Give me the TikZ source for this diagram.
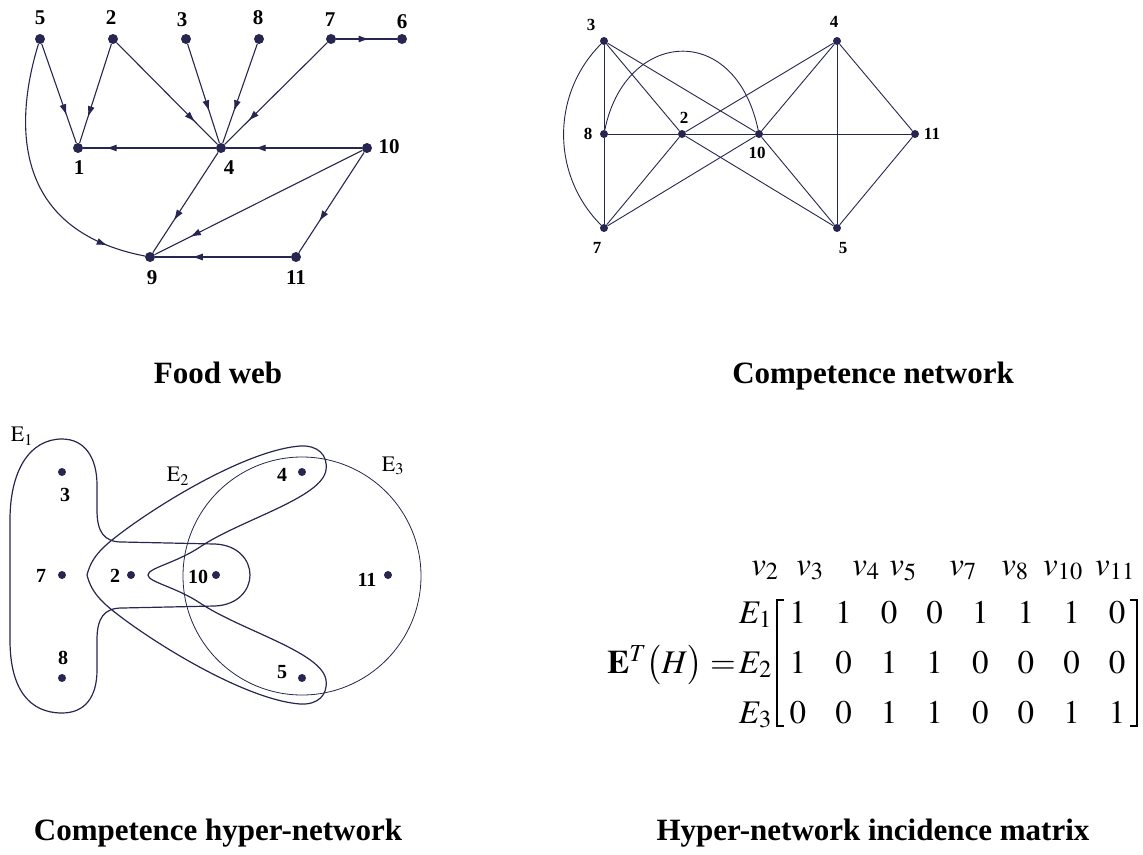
\documentclass[tikz,border=0pt]{standalone}
\usepackage{mathptmx}
\usepackage{fontspec}
\setmainfont{Liberation Serif}
\usepackage{amsmath}
\usetikzlibrary{
  arrows.meta,
  decorations.markings,
  matrix
}
\definecolor{inkblue}{RGB}{38,38,80}
\tikzset{
  web dot/.style={
    circle,
    fill=inkblue,
    inner sep=0pt,
    minimum size=10pt
  },
  web label/.style={
    font=\fontsize{21}{21}\selectfont\bfseries,
    inner sep=0pt
  },
  web edge/.style={
    draw=inkblue,
    line width=1.1pt,
    postaction={decorate},
    decoration={
      markings,
      mark=at position #1 with {
        \arrow{Latex[length=11pt,width=7pt]}
      }
    }
  },
  web edge/.default=0.75,
  net dot/.style={
    circle,
    fill=inkblue,
    inner sep=0pt,
    minimum size=8pt
  },
  net label/.style={
    font=\fontsize{17}{17}\selectfont\bfseries,
    inner sep=0pt
  },
  net edge/.style={
    draw=inkblue,
    line width=0.9pt
  },
  hyper dot/.style={
    circle,
    fill=inkblue,
    inner sep=0pt,
    minimum size=8pt
  },
  hyper label/.style={
    font=\fontsize{20}{20}\selectfont\bfseries,
    inner sep=0pt
  },
  hyper edge/.style={
    draw=inkblue,
    line width=1.2pt
  },
  caption/.style={
    font=\fontsize{31}{31}\selectfont\bfseries,
    anchor=base
  }
}

\begin{document}
\begin{tikzpicture}[x=1pt,y=-1pt]
  \useasboundingbox (0,0) rectangle (1143,854);

    % ---------- food web ----------
    \begin{scope}
      \node[web dot] (f5) at (40,39) {};
      \node[web dot] (f2) at (113,39) {};
      \node[web dot] (f3) at (186,39) {};
      \node[web dot] (f8) at (259,39) {};
      \node[web dot] (f7) at (331,39) {};
      \node[web dot] (f6) at (402,39) {};
      \node[web dot] (f1) at (78,148) {};
      \node[web dot] (f4) at (221,148) {};
      \node[web dot] (f10) at (367,148) {};
      \node[web dot] (f9) at (150,257) {};
      \node[web dot] (f11) at (296,257) {};

      \node[web label] (lf5) at (40,18) {5};
      \node[web label] (lf2) at (111,18) {2};
      \node[web label] (lf3) at (182,20) {3};
      \node[web label] (lf8) at (258,18) {8};
      \node[web label] (lf7) at (330,20) {7};
      \node[web label] (lf6) at (402,22) {6};
      \node[web label] (lf1) at (79,168) {1};
      \node[web label] (lf4) at (229,168) {4};
      \node[web label] (lf10) at (389,147) {10};
      \node[web label] (lf9) at (152,278) {9};
      \node[web label] (lf11) at (296,278) {11};

      % who eats whom
      \draw[web edge=0.72] (f5) -- (f1);
      \draw[web edge=0.74] (f2) -- (f1);
      \draw[web edge=0.78] (f2) -- (f4);
      \draw[web edge=0.68] (f3) -- (f4);
      \draw[web edge=0.68] (f8) -- (f4);
      \draw[web edge=0.77] (f7) -- (f4);
      \draw[web edge=0.55] (f7) -- (f6);
      \draw[web edge=0.83] (f4) -- (f1);
      \draw[web edge=0.79] (f10) -- (f4);
      \draw[web edge=0.68] (f4) -- (f9);
      \draw[web edge=0.83] (f10) -- (f9);
      \draw[web edge=0.69] (f10) -- (f11);
      \draw[web edge=0.73] (f11) -- (f9);
      \draw[web edge=0.86] (f5)
        .. controls (15,120) and (10,230) .. (f9);

      \node[caption] (capweb) at (218,383) {Food web};
    \end{scope}

    % ---------- competence network ----------
    \begin{scope}
      \node[net dot] (c3) at (604,41) {};
      \node[net dot] (c4) at (837,41) {};
      \node[net dot] (c8) at (604,134) {};
      \node[net dot] (c2) at (682,134) {};
      \node[net dot] (c10) at (759,134) {};
      \node[net dot] (c11) at (915,134) {};
      \node[net dot] (c7) at (604,228) {};
      \node[net dot] (c5) at (837,228) {};

      \node[net label] (lc3) at (591,25) {3};
      \node[net label] (lc4) at (834,22) {4};
      \node[net label] (lc8) at (588,134) {8};
      \node[net label] (lc2) at (684,118) {2};
      \node[net label] (lc10) at (757,153) {10};
      \node[net label] (lc11) at (932,134) {11};
      \node[net label] (lc7) at (597,248) {7};
      \node[net label] (lc5) at (843,248) {5};

      \draw[net edge] (c3) -- (c8) -- (c7);
      \draw[net edge] (c3) -- (c2);
      \draw[net edge] (c3) -- (c10);
      \draw[net edge] (c8) -- (c2) -- (c10) -- (c11);
      \draw[net edge] (c7) -- (c2);
      \draw[net edge] (c7) -- (c10);
      \draw[net edge] (c2) -- (c4);
      \draw[net edge] (c2) -- (c5);
      \draw[net edge] (c10) -- (c4);
      \draw[net edge] (c10) -- (c5);
      \draw[net edge] (c4) -- (c5);
      \draw[net edge] (c4) -- (c11) -- (c5);
      \draw[net edge] (c3) to[bend right=45] (c7);
      \draw[net edge] (c8)
        .. controls (625,30) and (735,20) .. (c10);

      \node[caption] (capnet) at (873,383) {Competence network};
    \end{scope}

    % ---------- competence hyper-network ----------
    \begin{scope}
      % E1
      \draw[hyper edge]
        (62,439) .. controls (85,439) and (97,458) .. (97,485)
        -- (97,510) .. controls (97,532) and (104,542) .. (122,542)
        -- (215,544) .. controls (238,545) and (250,560) .. (250,575)
        .. controls (250,590) and (238,605) .. (215,606)
        -- (122,608) .. controls (104,608) and (97,618) .. (97,640)
        -- (97,670) .. controls (97,697) and (85,713) .. (62,713)
        .. controls (30,713) and (10,690) .. (10,640)
        -- (10,520) .. controls (10,470) and (30,439) .. (62,439)
        -- cycle;

      % E2
      \draw[hyper edge]
        (87,575) .. controls (92,555) and (105,545) .. (125,530)
        .. controls (170,497) and (250,450) .. (300,446)
        .. controls (318,445) and (328,455) .. (326,470)
        .. controls (322,498) and (240,520) .. (200,547)
        .. controls (176,563) and (148,568) .. (148,575)
        .. controls (148,582) and (176,587) .. (200,603)
        .. controls (240,630) and (322,652) .. (326,680)
        .. controls (328,695) and (318,705) .. (300,704)
        .. controls (250,700) and (170,653) .. (125,620)
        .. controls (105,605) and (92,595) .. (87,575)
        -- cycle;

      % E3
      \draw[draw=inkblue,line width=0.8pt] (302,576) circle[radius=119];

      \node[hyper dot] (h3) at (62,472) {};
      \node[hyper dot] (h7) at (62,575) {};
      \node[hyper dot] (h8) at (62,678) {};
      \node[hyper dot] (h2) at (131,575) {};
      \node[hyper dot] (h10) at (216,575) {};
      \node[hyper dot] (h4) at (302,472) {};
      \node[hyper dot] (h5) at (302,678) {};
      \node[hyper dot] (h11) at (388,575) {};

      \node[hyper label] (lh3) at (65,495) {3};
      \node[hyper label] (lh7) at (41,576) {7};
      \node[hyper label] (lh8) at (63,658) {8};
      \node[hyper label] (lh2) at (115,576) {2};
      \node[hyper label] (lh10) at (198,577) {10};
      \node[hyper label] (lh4) at (282,475) {4};
      \node[hyper label] (lh5) at (282,672) {5};
      \node[hyper label] (lh11) at (367,580) {11};

      \node[font=\fontsize{22}{22}\selectfont,inner sep=0pt]
        (le1) at (22,436) {$\mathrm{E}_1$};
      \node[font=\fontsize{22}{22}\selectfont,inner sep=0pt]
        (le2) at (178,476) {$\mathrm{E}_2$};
      \node[font=\fontsize{22}{22}\selectfont,inner sep=0pt]
        (le3) at (393,466) {$\mathrm{E}_3$};

      \node[caption] (caphyp) at (218,840) {Competence hyper-network};
    \end{scope}

    % ---------- incidence matrix ----------
    \begin{scope}[font=\fontsize{33}{35}\selectfont]
      \matrix (inc) [
        matrix of math nodes,
        nodes={minimum width=45.6pt,inner sep=0pt,
          text height=22pt,text depth=0pt},
        row sep=28pt,
        column sep=0pt
      ] at (957.5,662) {
        1 & 1 & 0 & 0 & 1 & 1 & 1 & 0 \\
        1 & 0 & 1 & 1 & 0 & 0 & 0 & 0 \\
        0 & 0 & 1 & 1 & 0 & 0 & 1 & 1 \\
      };

      % brackets
      \draw[line width=1.4pt] (784,600) -- (777,600) -- (777,726) -- (784,726);
      \draw[line width=1.4pt] (1130,600) -- (1137,600) -- (1137,726) -- (1130,726);

      % row names
      \node[anchor=base east,inner sep=0pt] (r1) at (772,623) {$E_1$};
      \node[anchor=base east,inner sep=0pt] (r2) at (772,673) {$E_2$};
      \node[anchor=base east,inner sep=0pt] (r3) at (772,723) {$E_3$};
      \node[anchor=base east,inner sep=0pt] (lhs) at (736,673)
        {$\mathbf{E}^{T}\bigl(H\bigr)=$};

      % column names
      \node[anchor=base,inner sep=0pt] (v2) at (765,575) {$v_2$};
      \node[anchor=base,inner sep=0pt] (v3) at (810,575) {$v_3$};
      \node[anchor=base,inner sep=0pt] (v4) at (866,575) {$v_4$};
      \node[anchor=base,inner sep=0pt] (v5) at (903,575) {$v_5$};
      \node[anchor=base,inner sep=0pt] (v7) at (963,575) {$v_7$};
      \node[anchor=base,inner sep=0pt] (v8) at (1015,575) {$v_8$};
      \node[anchor=base,inner sep=0pt] (v10) at (1063,575) {$v_{10}$};
      \node[anchor=base,inner sep=0pt] (v11) at (1115,575) {$v_{11}$};
    \end{scope}

    \node[caption] (capmat) at (873,840) {Hyper-network incidence matrix};

\end{tikzpicture}
\end{document}
